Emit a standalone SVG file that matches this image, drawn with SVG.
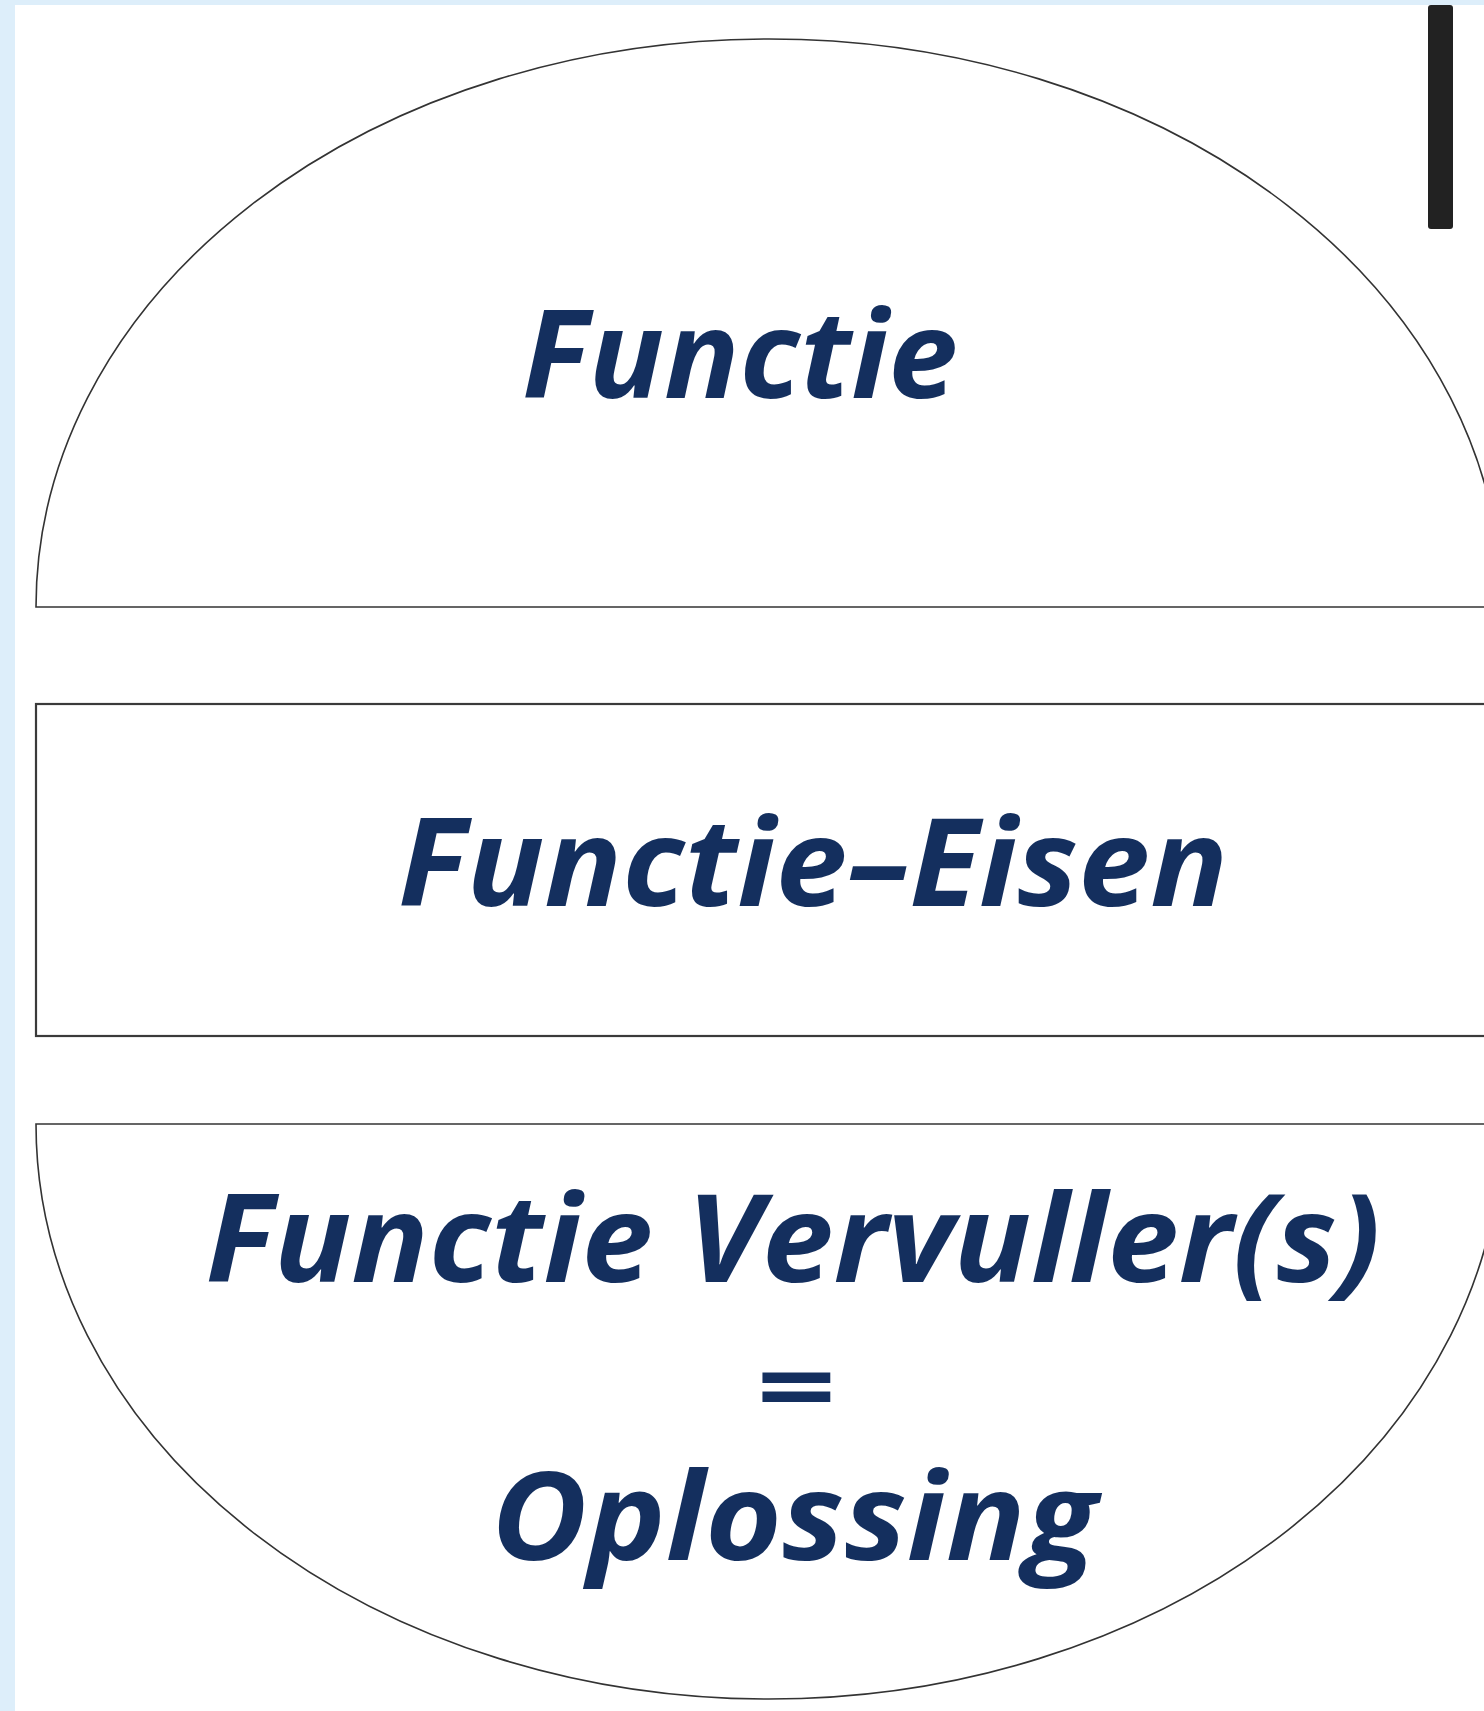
<svg xmlns="http://www.w3.org/2000/svg" width="1484" height="1711" viewBox="0 0 1484 1711">
<style>
.shape{fill:#ffffff;stroke:#333333;stroke-width:1.6}
.box{fill:#ffffff;stroke:#3a3a3a;stroke-width:2.2}
.lbl{font-family:"Open Sans","DejaVu Sans",sans-serif;font-weight:700;font-style:italic;font-size:122px;fill:#142F5E}
</style>
<rect x="0" y="0" width="1484" height="1711" fill="#DDEEFA"/>
<rect x="15" y="5" width="1469" height="1706" fill="#ffffff"/>
<rect x="1428" y="5" width="25" height="224" rx="3" fill="#222222"/>
<g id="node-functie">
<path class="shape" d="M36,607 A733,568 0 0 1 1502,607 Z"/>
<text class="lbl" x="740" y="398" text-anchor="middle" textLength="436" lengthAdjust="spacingAndGlyphs">Functie</text>
</g>
<g id="node-eisen">
<rect class="box" x="36" y="704" width="1470" height="332"/>
<text class="lbl" x="813" y="906" text-anchor="middle" textLength="830" lengthAdjust="spacingAndGlyphs">Functie–Eisen</text>
</g>
<g id="node-oplossing">
<path class="shape" d="M36,1124 L1502,1124 A733,575 0 0 1 36,1124 Z"/>
<text class="lbl" x="793" y="1282" text-anchor="middle" textLength="1175" lengthAdjust="spacingAndGlyphs">Functie Vervuller(s)</text>
<text class="lbl" x="795" y="1422" text-anchor="middle" style="font-size:98px" textLength="80" lengthAdjust="spacingAndGlyphs">=</text>
<text class="lbl" x="794" y="1560" text-anchor="middle" textLength="606" lengthAdjust="spacingAndGlyphs">Oplossing</text>
</g>
<g id="connectors"></g>
</svg>
